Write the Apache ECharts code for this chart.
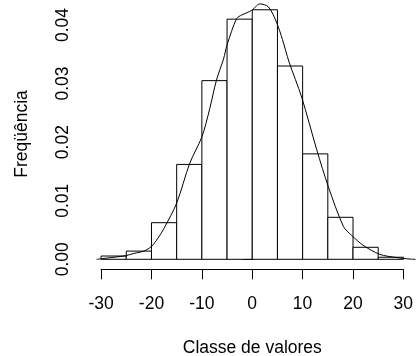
<!DOCTYPE html>
<html>
<head>
<meta charset="utf-8">
<script src="https://cdn.jsdelivr.net/npm/echarts@6/dist/echarts.min.js"></script>
<style>html,body{margin:0;padding:0;background:#fff}#c{width:416px;height:356px}</style>
</head>
<body>
<div id="c"></div>
<script>
// Histogram bins (class edges) and densities
const binEdges = [-30, -25, -20, -15, -10, -5, 0, 5, 10, 15, 20, 25, 30];
const freq = [0.00056, 0.0014, 0.00625, 0.0162, 0.0305, 0.0410, 0.0426, 0.0330, 0.0180, 0.00717, 0.00205, 0.00035];
// Density curve points
const curveX = [-30.9, -29.2, -27.0, -25.2, -23.5, -21.5, -20.0, -18.8, -17.5, -15.0, -12.4, -10.0, -8.5, -7.1, -5.7, -5.0, -3.1, -2.1, -0.1, 1.5, 3.2, 4.8, 6.0, 7.3, 9.8, 12.8, 15.1, 18.1, 19.7, 22.0, 25.3, 28.6, 31.6, 32.4];
const curveY = [0, 0.00017, 0.0004, 0.0006, 0.0010, 0.0014, 0.0022, 0.0035, 0.0053, 0.0096, 0.0164, 0.0209, 0.0255, 0.0306, 0.0342, 0.0366, 0.0411, 0.0417, 0.0425, 0.0436, 0.0431, 0.0405, 0.0375, 0.0337, 0.0277, 0.0187, 0.0124, 0.0056, 0.0041, 0.0024, 0.00085, 0.0003, 0.00002, 0];
const xTickMin = -30, xTickMax = 30, xTickStep = 10;
const yTickMin = 0, yTickMax = 0.04, yTickStep = 0.01;
const xLabel = 'Classe de valores';
const yLabel = 'Freqüência';

const font = "'Liberation Sans', Arial, sans-serif";
const fs = 17.5;

const bars = freq.map((f, i) => [binEdges[i], binEdges[i + 1], f]);
const curve = curveX.map((x, i) => [x, curveY[i]]);

const chart = echarts.init(document.getElementById('c'), null, {renderer: 'canvas'});
chart.setOption({
  animation: false,
  backgroundColor: '#fff',
  grid: [
    {left: 88.5, right: 0, top: 25, bottom: 96.7},
    {left: 101.1, right: 12.6, bottom: 86.7, height: 10}
  ],
  xAxis: [
    {gridIndex: 0, type: 'value', min: -32.5, max: 32.5, show: false},
    {gridIndex: 1, type: 'value', min: xTickMin, max: xTickMax, interval: xTickStep, position: 'bottom',
      axisLine: {show: true, onZero: false, lineStyle: {color: '#000', width: 1}},
      axisTick: {show: true, inside: false, length: 10, lineStyle: {color: '#000', width: 1}},
      axisLabel: {show: true, color: '#000', fontFamily: font, fontSize: fs, margin: 26},
      splitLine: {show: false}}
  ],
  yAxis: [
    {gridIndex: 0, type: 'value', min: yTickMin, max: yTickMax, interval: yTickStep,
      axisLine: {show: true, lineStyle: {color: '#000', width: 1}},
      axisTick: {show: true, inside: false, length: 10, lineStyle: {color: '#000', width: 1}},
      axisLabel: {show: true, rotate: 90, color: '#000', fontFamily: font, fontSize: fs, margin: 16,
        formatter: v => v.toFixed(2)},
      splitLine: {show: false}},
    {gridIndex: 1, type: 'value', show: false}
  ],
  series: [
    {
      type: 'custom', xAxisIndex: 0, yAxisIndex: 0, clip: false,
      data: bars,
      encode: {x: [0, 1], y: 2},
      renderItem: function (params, api) {
        const p0 = api.coord([api.value(0), api.value(2)]);
        const p1 = api.coord([api.value(1), 0]);
        return {type: 'rect', shape: {x: p0[0], y: p0[1], width: p1[0] - p0[0], height: p1[1] - p0[1]},
          style: {fill: '#fff', stroke: '#000', lineWidth: 1}};
      },
      z: 2
    },
    {
      type: 'line', xAxisIndex: 0, yAxisIndex: 0, clip: false,
      data: curve, showSymbol: false, smooth: 0.3,
      lineStyle: {color: '#000', width: 1}, z: 3
    }
  ],
  graphic: [
    {type: 'text', x: 252.3, y: 348, style: {text: xLabel, fontFamily: font, fontSize: fs, fill: '#000', align: 'center', verticalAlign: 'middle'}},
    {type: 'text', x: 22.5, y: 134, rotation: Math.PI / 2, style: {text: yLabel, fontFamily: font, fontSize: fs, fill: '#000', align: 'center', verticalAlign: 'middle'}}
  ]
});
</script>
</body>
</html>
